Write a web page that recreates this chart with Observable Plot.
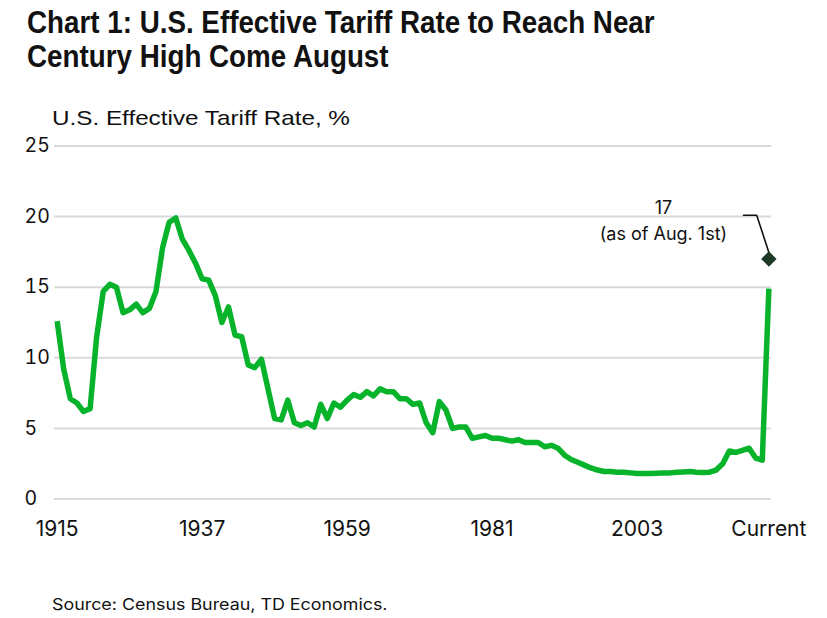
<!DOCTYPE html>
<html>
<head>
<meta charset="utf-8">
<script src="https://cdn.jsdelivr.net/npm/d3@7"></script>
<script src="https://cdn.jsdelivr.net/npm/@observablehq/plot@0.6"></script>
<style>
  html, body { margin: 0; padding: 0; background: #fff; }
  body { width: 827px; height: 618px; position: relative; overflow: hidden; font-family: Inter, "Liberation Sans", sans-serif; color: #111; }
  .fit { position: absolute; white-space: nowrap; transform-origin: left top; }
  #title { left: 27px; top: 6px; font-family: "Liberation Sans", Arial, sans-serif; font-weight: 700; font-size: 31px; line-height: 34px; color: #111; }
  #subtitle { left: 52px; top: 105px; font-family: "Liberation Sans", Arial, sans-serif; font-size: 21px; line-height: 26px; color: #111; }
  #chart { position: absolute; left: 0; top: 130px; }
  #source { left: 52px; top: 594px; font-size: 16px; color: #111; }
</style>
</head>
<body>
<div id="title" class="fit"><div id="t1">Chart 1: U.S. Effective Tariff Rate to Reach Near</div><div id="t2">Century High Come August</div></div>
<div id="subtitle" class="fit">U.S. Effective Tariff Rate, %</div>
<div id="chart"></div>
<div id="source" class="fit">Source: Census Bureau, TD Economics.</div>
<script>
// ---- data ----
const years = [
  "1915","1916","1917","1918","1919","1920","1921","1922","1923","1924",
  "1925","1926","1927","1928","1929","1930","1931","1932","1933","1934",
  "1935","1936","1937","1938","1939","1940","1941","1942","1943","1944",
  "1945","1946","1947","1948","1949","1950","1951","1952","1953","1954",
  "1955","1956","1957","1958","1959","1960","1961","1962","1963","1964",
  "1965","1966","1967","1968","1969","1970","1971","1972","1973","1974",
  "1975","1976","1977","1978","1979","1980","1981","1982","1983","1984",
  "1985","1986","1987","1988","1989","1990","1991","1992","1993","1994",
  "1995","1996","1997","1998","1999","2000","2001","2002","2003","2004",
  "2005","2006","2007","2008","2009","2010","2011","2012","2013","2014",
  "2015","2016","2017","2018","2019","2020","2021","2022","Current"
];
const rates = [
  12.6, 9.2, 7.1, 6.8, 6.2, 6.4, 11.5, 14.7, 15.2, 15.0,
  13.2, 13.4, 13.8, 13.2, 13.5, 14.7, 17.8, 19.6, 19.9, 18.4,
  17.6, 16.7, 15.6, 15.5, 14.4, 12.5, 13.6, 11.6, 11.5, 9.5,
  9.3, 9.9, 7.8, 5.7, 5.6, 7.0, 5.4, 5.2, 5.4, 5.1,
  6.7, 5.7, 6.8, 6.5, 7.0, 7.4, 7.2, 7.6, 7.3, 7.8,
  7.6, 7.6, 7.1, 7.1, 6.7, 6.8, 5.4, 4.7, 6.9, 6.3,
  5.0, 5.1, 5.1, 4.3, 4.4, 4.5, 4.3, 4.3, 4.2, 4.1,
  4.2, 4.0, 4.0, 4.0, 3.7, 3.8, 3.6, 3.1, 2.8, 2.6,
  2.4, 2.2, 2.05, 1.95, 1.95, 1.9, 1.9, 1.85, 1.8, 1.8,
  1.8, 1.82, 1.85, 1.85, 1.9, 1.92, 1.95, 1.9, 1.88, 1.9,
  2.05, 2.5, 3.4, 3.3, 3.45, 3.6, 2.9, 2.75, 14.9
];
const xTickLabels = ["1915", "1937", "1959", "1981", "2003", "Current"];
const yTicks = [0, 5, 10, 15, 20, 25];
const augustLabel = "Current";
const augustValue = 17;
const augustNote = "(as of Aug. 1st)";

// ---- build ----
const data = years.map((y, i) => ({year: y, rate: rates[i]}));
const green = "#06b32b";
const dark = "#1c3a26";

const chart = Plot.plot({
  width: 827,
  height: 420,
  marginLeft: 54,
  marginRight: 56,
  marginTop: 15.5,
  marginBottom: 51.5,
  x: {type: "point", domain: years, padding: 0.4, label: null},
  y: {domain: [0, 25], label: null},
  style: {fontFamily: "Inter, 'Liberation Sans', sans-serif", color: "#111", background: "transparent"},
  marks: [
    Plot.ruleY(yTicks, {stroke: "#d9d9d9", strokeWidth: 2}),
    Plot.axisY(yTicks, {tickSize: 0, tickPadding: 3, dx: -27, textAnchor: "start", label: null, fontSize: 19.5}),
    Plot.axisX(xTickLabels, {tickSize: 0, tickPadding: 22, label: null, fontSize: 21}),
    Plot.line(data, {x: "year", y: "rate", stroke: green, strokeWidth: 5.5, strokeLinejoin: "round", strokeLinecap: "butt"}),
    // leader line for the annotation
    Plot.line([
      {x: "2019", y: augustValue + 3.1},
      {x: "2021", y: augustValue + 3.1},
      {x: augustLabel, y: augustValue + 0.25}
    ], {x: "x", y: "y", stroke: "#111", strokeWidth: 1.6, dx: 1}),
    Plot.dot([{x: augustLabel, y: augustValue}], {x: "x", y: "y", symbol: "diamond2", r: 6, fill: dark, stroke: dark}),
    Plot.text([{x: "2007", y: augustValue + 2.85}], {
      x: "x", y: "y",
      text: () => `${augustValue}\n${augustNote}`,
      lineHeight: 1.45, fontSize: 18, fill: "#111", textAnchor: "middle"
    })
  ]
});
document.getElementById("chart").appendChild(chart);

// fit text block widths to the reference layout
function fit(el, target) {
  const w = el.scrollWidth;
  el.style.transform = `scaleX(${target / w})`;
}
fit(document.getElementById("title"), 628);
fit(document.getElementById("subtitle"), 298);
fit(document.getElementById("source"), 336);
</script>
</body>
</html>
